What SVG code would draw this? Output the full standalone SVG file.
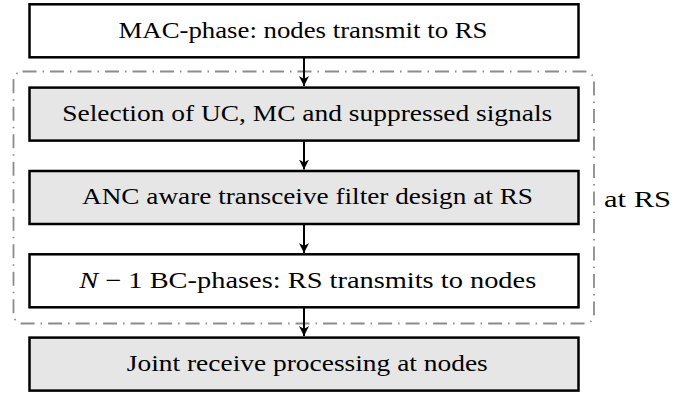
<svg xmlns="http://www.w3.org/2000/svg" width="691" height="395" viewBox="0 0 691 395">
<defs>
<marker id="ah" viewBox="0 0 10 10" refX="10" refY="5" markerWidth="5" markerHeight="5" markerUnits="strokeWidth" orient="auto">
<path d="M0,0 L10,5 L0,10 L3,5 Z" fill="#000"/>
</marker>
<style>
.box{stroke:#000;stroke-width:2.5}
.w{fill:#fff}
.g{fill:#e6e6e6}
.t{font-family:"Liberation Serif","Times New Roman",serif;font-size:23.5px;fill:#000;text-anchor:middle}
.s{text-anchor:start}
.c{stroke:#000;stroke-width:2;fill:none;marker-end:url(#ah)}
.grp{fill:none;stroke:#8c8c8c;stroke-width:1.8;stroke-dasharray:14 6 1.5 6}
</style>
</defs>
<rect width="691" height="395" fill="#fff"/>
<g id="rs-group">
<rect class="grp" x="13.5" y="71.5" width="580.5" height="252" rx="9"/>
<text class="t s" x="604" y="207.3" textLength="67" lengthAdjust="spacingAndGlyphs">at RS</text>
</g>
<g id="connectors">
<line class="c" x1="304" y1="57.5" x2="304" y2="86"/>
<line class="c" x1="304" y1="141" x2="304" y2="169.5"/>
<line class="c" x1="304" y1="224" x2="304" y2="253"/>
<line class="c" x1="304" y1="307.5" x2="304" y2="336"/>
</g>
<g id="n1">
<rect class="box w" x="29.5" y="4.3" width="549" height="53"/>
<text class="t" x="303" y="37.7" textLength="369" lengthAdjust="spacingAndGlyphs">MAC-phase: nodes transmit to RS</text>
</g>
<g id="n2">
<rect class="box g" x="29.5" y="87.6" width="549" height="53"/>
<text class="t" x="307.3" y="121" textLength="490" lengthAdjust="spacingAndGlyphs">Selection of UC, MC and suppressed signals</text>
</g>
<g id="n3">
<rect class="box g" x="29.5" y="171" width="549" height="53"/>
<text class="t" x="307.5" y="204.4" textLength="451" lengthAdjust="spacingAndGlyphs">ANC aware transceive filter design at RS</text>
</g>
<g id="n4">
<rect class="box w" x="29.5" y="254.3" width="549" height="53"/>
<text class="t" x="307.7" y="287.7" textLength="457" lengthAdjust="spacingAndGlyphs"><tspan font-style="italic">N</tspan> − 1 BC-phases: RS transmits to nodes</text>
</g>
<g id="n5">
<rect class="box g" x="29.5" y="337.6" width="549" height="53"/>
<text class="t" x="307.3" y="371" textLength="361" lengthAdjust="spacingAndGlyphs">Joint receive processing at nodes</text>
</g>
</svg>
